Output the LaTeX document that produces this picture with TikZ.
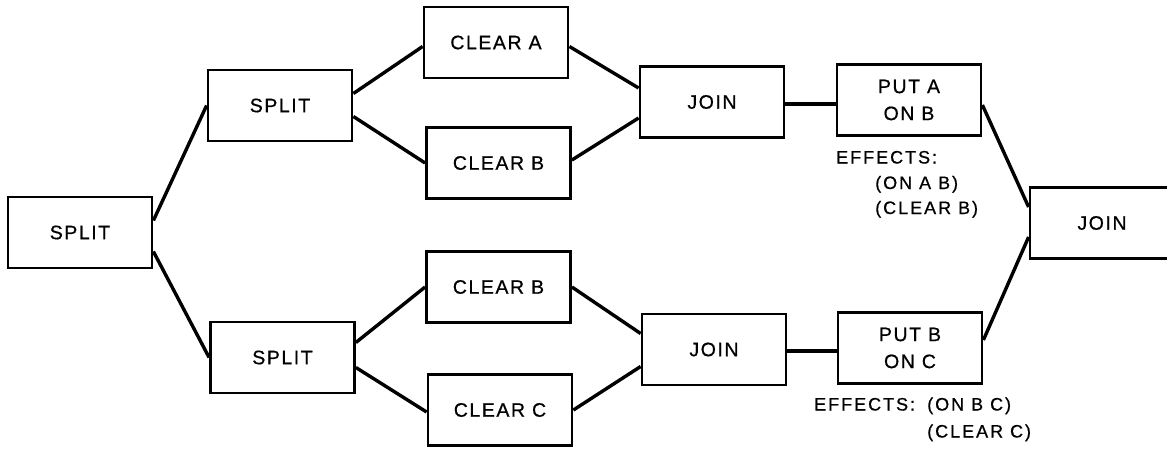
\documentclass[tikz,border=0pt]{standalone}
\usepackage{fontspec}
\newfontfamily\boxfont[LetterSpace=8,FakeBold=0.7]{Liberation Sans}
\newfontfamily\efffont[LetterSpace=11,FakeBold=0.7]{Liberation Sans}
\begin{document}
\begin{tikzpicture}[x=1pt,y=-1pt,
  stepbox/.style={draw, line width=2.8pt, minimum width=144pt, minimum height=71pt,
    inner sep=0pt, align=center,
    font=\boxfont\fontsize{19.5}{27}\selectfont},
  link/.style={line width=3.4pt},
  effect/.style={anchor=base west, inner sep=0pt,
    font=\efffont\fontsize{18}{25}\selectfont}]
\useasboundingbox (0,0) rectangle (1167,448);

% plan steps
\node[stepbox] (s0)  at (80,232.5)  {SPLIT};
\node[stepbox] (s1)  at (280,105.5) {SPLIT};
\node[stepbox] (s2)  at (282.5,357.5) {SPLIT};
\node[stepbox] (ca)  at (496,42.5)  {CLEAR A};
\node[stepbox] (cb1) at (498.5,163) {CLEAR B};
\node[stepbox] (cb2) at (498.5,287) {CLEAR B};
\node[stepbox] (cc)  at (500,410)   {CLEAR C};
\node[stepbox] (j1)  at (712,102)   {JOIN};
\node[stepbox] (j2)  at (714,349.5) {JOIN};
\node[stepbox] (p1)  at (909,100)   {PUT A\\ON B};
\node[stepbox] (p2)  at (910,348)   {PUT B\\ON C};
\node[stepbox] (j3)  at (1102,223)  {JOIN};

% effects of the two PUT steps
\node[effect] (e1)  at (836,163.5) {EFFECTS:};
\node[effect] (e1a) at (875,189)   {(ON A B)};
\node[effect] (e1b) at (875,214)   {(CLEAR B)};
\node[effect] (e2)  at (814,410.5) {EFFECTS:};
\node[effect] (e2a) at (927,410.5) {(ON B C)};
\node[effect] (e2b) at (927,437.5) {(CLEAR C)};

% ordering links
\draw[link] ([yshift=12pt]s0.east)  -- (s1.west);
\draw[link] ([yshift=-19pt]s0.east) -- (s2.west);
\draw[link] ([yshift=12pt]s1.east)  -- ([yshift=-4pt]ca.west);
\draw[link] ([yshift=-11pt]s1.east) -- (cb1.west);
\draw[link] ([yshift=15pt]s2.east)  -- (cb2.west);
\draw[link] ([yshift=-10pt]s2.east) -- ([yshift=-2pt]cc.west);
\draw[link] ([yshift=-4pt]ca.east)  -- ([yshift=14pt]j1.west);
\draw[link] ([yshift=3pt]cb1.east)  -- ([yshift=-16pt]j1.west);
\draw[link] (cb2.east) -- ([yshift=16pt]j2.west);
\draw[link] (cc.east)  -- ([yshift=-17pt]j2.west);
\draw[link] ([yshift=-2pt]j1.east) -- ([yshift=-2pt]j1.east -| p1.west);
\draw[link] ([yshift=-1.5pt]j2.east) -- ([yshift=-1.5pt]j2.east -| p2.west);
\draw[link] ([yshift=-5pt]p1.east) -- ([yshift=16pt]j3.west);
\draw[link] ([yshift=8pt]p2.east)  -- ([yshift=-14pt]j3.west);
\end{tikzpicture}
\end{document}
